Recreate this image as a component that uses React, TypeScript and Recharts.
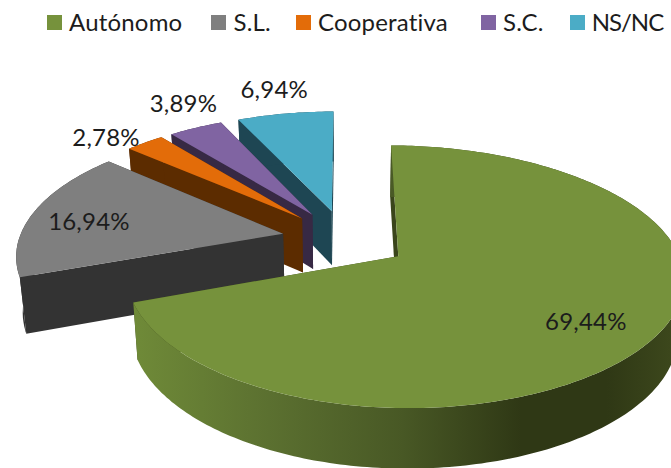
import { Legend, Pie, PieChart } from "recharts";

const categories = ["Autónomo", "S.L.", "Cooperativa", "S.C.", "NS/NC"];
const shares = [69.44, 16.94, 2.78, 3.89, 6.94];
const topColors = ["#76923c", "#7f7f7f", "#e36c09", "#8064a2", "#4bacc6"];
const wallColors = ["#3a451b", "#333333", "#5c2c00", "#372944", "#1e4653"];

// drawn back to front, so the big slice goes last and the pie runs counter-clockwise
const table = categories
  .map((name, i) => ({ name, value: shares[i], fill: topColors[i], wall: wallColors[i] }))
  .reverse();

// 3d look of the excel pie
const TILT = 0.465;
const PERSPECTIVE = 0.153;
const EXPLODE = 0.24;
const DEPTH = 55;
const RIGHT_STRETCH = 0.03;
const RAD = Math.PI / 180;

const legendGaps = [29, 25, 33, 26, 0];
const labelReach: Record<string, number> = { "Autónomo": 0.76, "S.L.": 0.75, Cooperativa: 1.2, "S.C.": 1.05, "NS/NC": 1.1 };
const labelNudge: Record<string, number[]> = {
  "Autónomo": [-2, 4],
  "S.L.": [-6, 3],
  Cooperativa: [-11, 7],
  "S.C.": [-7, -21],
  "NS/NC": [-7, -17],
};

function project(cx: number, cy: number, r: number, u: number, v: number, drop: boolean) {
  const w = 1 + PERSPECTIVE * v;
  const x = cx + ((r * u) / w) * (u > 0 ? 1 + RIGHT_STRETCH * u : 1);
  const y = cy - (r * TILT * v) / w;
  if (!drop) return [x, y];
  return [cx + (x - cx) * 0.98, y + DEPTH / (1 + 0.08 * v)];
}

function path(points: number[][]) {
  return "M" + points.map((p) => p[0].toFixed(1) + " " + p[1].toFixed(1)).join("L") + "Z";
}

function Slice3D(props: any) {
  const { cx, cy, outerRadius, startAngle, endAngle, fill, payload } = props;
  const mid = ((startAngle + endAngle) / 2) * RAD;
  const ou = EXPLODE * Math.cos(mid);
  const ov = EXPLODE * Math.sin(mid);
  const at = (deg: number, drop: boolean) =>
    project(cx, cy, outerRadius, ou + Math.cos(deg * RAD), ov + Math.sin(deg * RAD), drop);
  const apex = project(cx, cy, outerRadius, ou, ov, false);
  const apexLow = project(cx, cy, outerRadius, ou, ov, true);

  const top: number[][] = [];
  const low: number[][] = [];
  const steps = Math.ceil(Math.abs(endAngle - startAngle));
  for (let i = 0; i <= steps; i++) {
    const deg = startAngle + ((endAngle - startAngle) * i) / steps;
    top.push(at(deg, false));
    low.push(at(deg, true));
  }
  const isBig = payload.name === categories[0];
  const wall = payload.wall;
  return (
    <g>
      {isBig && (
        <defs>
          <linearGradient id="rimFade" gradientUnits="userSpaceOnUse" x1={135} y1={0} x2={671} y2={0}>
            <stop offset="0" stopColor="#6f8a38" />
            <stop offset="0.25" stopColor="#5b7030" />
            <stop offset="0.5" stopColor="#485825" />
            <stop offset="0.72" stopColor="#2f3815" />
            <stop offset="0.88" stopColor="#2f3815" />
            <stop offset="1" stopColor="#3c471c" />
          </linearGradient>
        </defs>
      )}
      <path d={path([apex, top[0], low[0], apexLow])} fill={wall} />
      <path d={path([apex, top[steps], low[steps], apexLow])} fill={wall} />
      <path d={path([...top, ...[...low].reverse()])} fill={isBig ? "url(#rimFade)" : wall} />
      <path d={path([apex, ...top])} fill={fill} />
    </g>
  );
}

function SliceLabel(props: any) {
  const { cx, cy, outerRadius, midAngle, value, name } = props;
  const a = midAngle * RAD;
  const reach = labelReach[name];
  const [x, y] = project(
    cx,
    cy,
    outerRadius,
    (EXPLODE + reach) * Math.cos(a),
    (EXPLODE + reach) * Math.sin(a),
    false
  );
  const nudge = labelNudge[name];
  return (
    <text
      x={x + nudge[0]}
      y={y + nudge[1]}
      textAnchor="middle"
      dominantBaseline="central"
      fontFamily="Lato"
      fontSize={24}
      letterSpacing={0.2}
      fill="#1c1c1c"
    >
      {value.toFixed(2).replace(".", ",") + "%"}
    </text>
  );
}

function LegendRow() {
  return (
    <div
      style={{
        display: "flex",
        fontFamily: "Lato",
        fontSize: 24,
        letterSpacing: 0.2,
        color: "#1c1c1c",
        lineHeight: "28px",
      }}
    >
      {categories.map((name, i) => (
        <div key={name} style={{ display: "flex", alignItems: "center", gap: 7, marginRight: legendGaps[i] }}>
          <span style={{ width: 15, height: 15, background: topColors[i], display: "block" }} />
          <span style={i === 4 ? { letterSpacing: -1 } : undefined}>{name}</span>
        </div>
      ))}
    </div>
  );
}

export default function App() {
  return (
    <div style={{ position: "absolute", left: 0, top: 0, width: 671, height: 468, background: "#fff" }}>
      <PieChart width={671} height={468} margin={{ top: 0, right: 0, bottom: 0, left: 0 }}>
        <Legend
          content={<LegendRow />}
          layout="horizontal"
          verticalAlign="top"
          align="left"
          wrapperStyle={{ left: 47, top: 8, width: 620 }}
        />
        <Pie
          data={table}
          dataKey="value"
          nameKey="name"
          cx={345}
          cy={211}
          innerRadius={0}
          outerRadius={264}
          startAngle={90}
          endAngle={450}
          paddingAngle={0}
          stroke="none"
          shape={Slice3D}
          label={SliceLabel}
          labelLine={false}
          isAnimationActive={false}
        />
      </PieChart>
    </div>
  );
}
